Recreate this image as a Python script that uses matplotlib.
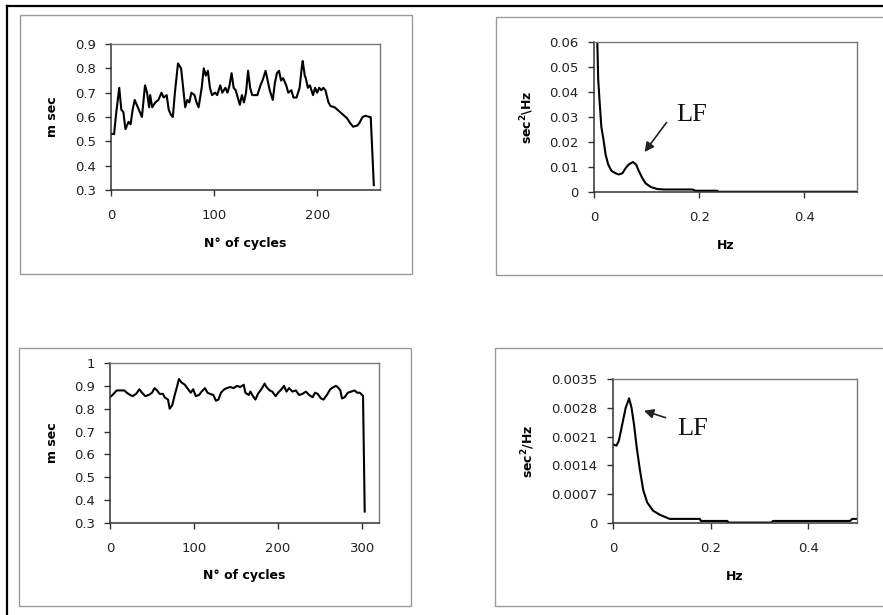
import matplotlib
matplotlib.use("Agg")
import matplotlib.pyplot as plt
from matplotlib.lines import Line2D
from matplotlib.patches import Rectangle

# ---------------- data ----------------
tl_cycles = [0, 3, 5, 8, 10, 12, 14, 17, 19, 21,
             23, 25, 28, 30, 33, 35, 37, 38, 40, 43,
             46, 49, 51, 54, 56, 58, 60, 62, 65, 68,
             70, 72, 74, 76, 78, 81, 83, 85, 88, 90,
             92, 94, 96, 98, 101, 103, 106, 108, 111, 113,
             115, 117, 119, 121, 123, 125, 127, 129, 131, 133,
             135, 137, 140, 142, 145, 147, 150, 152, 154, 157,
             159, 161, 163, 165, 167, 170, 172, 175, 177, 180,
             183, 185, 186, 188, 189, 191, 193, 196, 198, 200,
             202, 204, 206, 208, 211, 213, 217, 221, 225, 229,
             232, 235, 239, 241, 244, 247, 251, 252, 255]
tl_msec = [0.53, 0.53, 0.615, 0.72, 0.63, 0.62, 0.55, 0.58, 0.57, 0.63,
           0.67, 0.65, 0.62, 0.60, 0.73, 0.70, 0.64, 0.69, 0.64, 0.66,
           0.67, 0.70, 0.68, 0.69, 0.63, 0.61, 0.60, 0.70, 0.82, 0.80,
           0.72, 0.64, 0.67, 0.66, 0.70, 0.69, 0.66, 0.64, 0.72, 0.80,
           0.77, 0.79, 0.72, 0.69, 0.70, 0.69, 0.73, 0.70, 0.72, 0.70,
           0.73, 0.78, 0.72, 0.71, 0.68, 0.65, 0.69, 0.66, 0.70, 0.79,
           0.72, 0.69, 0.69, 0.69, 0.73, 0.75, 0.79, 0.75, 0.71, 0.67,
           0.74, 0.78, 0.79, 0.75, 0.76, 0.73, 0.70, 0.71, 0.68, 0.68,
           0.72, 0.80, 0.83, 0.77, 0.76, 0.72, 0.73, 0.69, 0.72, 0.70,
           0.72, 0.71, 0.72, 0.71, 0.66, 0.645, 0.64, 0.625, 0.61, 0.595,
           0.575, 0.56, 0.565, 0.575, 0.60, 0.605, 0.60, 0.60, 0.32]

tr_hz = [0.004, 0.008, 0.011, 0.014, 0.018, 0.022, 0.027, 0.033, 0.041, 0.047,
         0.054, 0.060, 0.066, 0.074, 0.080, 0.085, 0.092, 0.098, 0.108, 0.120,
         0.133, 0.152, 0.187, 0.193, 0.234, 0.237, 0.30, 0.40, 0.50]
tr_psd = [0.080, 0.045, 0.035, 0.026, 0.021, 0.015, 0.011, 0.0085, 0.0075, 0.007,
          0.0075, 0.0095, 0.011, 0.012, 0.011, 0.0085, 0.0055, 0.0035, 0.002, 0.0012,
          0.001, 0.001, 0.001, 0.0005, 0.0005, 0.0001, 0.0001, 0.0001, 0.0001]

bl_cycles = [0, 3, 8, 13, 17, 20, 24, 27, 31, 35,
             38, 42, 46, 50, 53, 56, 59, 63, 65, 69,
             71, 74, 77, 80, 82, 85, 89, 92, 96, 99,
             102, 106, 109, 113, 116, 119, 123, 126, 129, 132,
             136, 139, 143, 147, 151, 155, 159, 161, 165, 167,
             170, 173, 176, 180, 184, 186, 190, 193, 197, 200,
             204, 207, 210, 213, 217, 221, 225, 229, 233, 237,
             241, 244, 247, 251, 254, 258, 262, 266, 269, 272,
             274, 276, 279, 283, 287, 291, 294, 297, 300, 301, 303]
bl_msec = [0.851, 0.86, 0.88, 0.88, 0.88, 0.87, 0.86, 0.855, 0.865, 0.885,
           0.87, 0.855, 0.86, 0.87, 0.89, 0.88, 0.865, 0.865, 0.85, 0.84,
           0.80, 0.815, 0.86, 0.90, 0.93, 0.915, 0.905, 0.89, 0.87, 0.885,
           0.855, 0.86, 0.875, 0.89, 0.87, 0.865, 0.86, 0.835, 0.84, 0.87,
           0.885, 0.89, 0.895, 0.89, 0.90, 0.895, 0.905, 0.87, 0.86, 0.875,
           0.855, 0.84, 0.865, 0.885, 0.91, 0.895, 0.88, 0.875, 0.855, 0.87,
           0.885, 0.90, 0.875, 0.89, 0.875, 0.88, 0.86, 0.865, 0.875, 0.86,
           0.85, 0.87, 0.865, 0.845, 0.84, 0.86, 0.885, 0.895, 0.90, 0.89,
           0.88, 0.845, 0.85, 0.87, 0.875, 0.88, 0.87, 0.87, 0.86, 0.855, 0.35]

br_hz = [0, 0.007, 0.012, 0.019, 0.026, 0.033, 0.038, 0.043, 0.049, 0.055,
         0.062, 0.070, 0.082, 0.096, 0.116, 0.178, 0.180, 0.234, 0.237, 0.325,
         0.328, 0.486, 0.490, 0.5]
br_psd = [0.00191, 0.00188, 0.0020, 0.0024, 0.0028, 0.00303, 0.0028, 0.0024, 0.0018, 0.0013,
          0.0008, 0.0005, 0.0003, 0.0002, 0.0001, 0.0001, 0.00005, 0.00005, 0.00001, 0.00001,
          0.00005, 0.00005, 0.0001, 0.0001]

tl_yticks = [0.3, 0.4, 0.5, 0.6, 0.7, 0.8, 0.9]
tl_yticklabels = ["0.3", "0.4", "0.5", "0.6", "0.7", "0.8", "0.9"]
tl_xticks = [0, 100, 200]
tr_yticks = [0, 0.01, 0.02, 0.03, 0.04, 0.05, 0.06]
tr_yticklabels = ["0", "0.01", "0.02", "0.03", "0.04", "0.05", "0.06"]
bl_yticks = [0.3, 0.4, 0.5, 0.6, 0.7, 0.8, 0.9, 1.0]
bl_yticklabels = ["0.3", "0.4", "0.5", "0.6", "0.7", "0.8", "0.9", "1"]
bl_xticks = [0, 100, 200, 300]
hz_xticks = [0, 0.2, 0.4]
hz_xticklabels = ["0", "0.2", "0.4"]
br_yticks = [0, 0.0007, 0.0014, 0.0021, 0.0028, 0.0035]
br_yticklabels = ["0", "0.0007", "0.0014", "0.0021", "0.0028", "0.0035"]

# ---------------- figure ----------------
W, H = 883, 615
fig = plt.figure(figsize=(W / 100, H / 100), dpi=100)
fig.patch.set_facecolor("white")


def px_rect(l, t, r, b):
    return [l / W, 1 - b / H, (r - l) / W, (b - t) / H]


# outer chart boxes
for (l, t, r, b) in [(20, 15, 412, 274), (496, 17, 900, 275),
                     (19, 348, 411, 606), (495, 348, 900, 606)]:
    fig.add_artist(Rectangle((l / W, 1 - b / H), (r - l) / W, (b - t) / H,
                             transform=fig.transFigure, fill=False,
                             edgecolor="#9a9a9a", lw=1.0))

# page border (scan edges)
fig.add_artist(Line2D([7 / W, 1], [1 - 5.5 / H, 1 - 5.5 / H],
                      transform=fig.transFigure, color="black", lw=1.6))
fig.add_artist(Line2D([7 / W, 7 / W], [0, 1 - 5.5 / H],
                      transform=fig.transFigure, color="black", lw=1.6))

tick_font = dict(family="DejaVu Sans", size=9.5)
label_font = dict(family="DejaVu Sans", size=9, weight="bold")


def style(ax, xlim, ylim, xticks, xticklabels, yticks, yticklabels,
          xlabel, ylabel, xlab_off, ylab_off, h_px, w_px):
    ax.set_xlim(*xlim)
    ax.set_ylim(*ylim)
    ax.set_xticks(xticks)
    ax.set_xticklabels(xticklabels, **tick_font)
    ax.set_yticks(yticks)
    ax.set_yticklabels(yticklabels, **tick_font)
    for s in ["left", "bottom"]:
        ax.spines[s].set_color("#333333")
        ax.spines[s].set_linewidth(1.1)
    for s in ["top", "right"]:
        ax.spines[s].set_color("#777777")
        ax.spines[s].set_linewidth(1.0)
    ax.tick_params(axis="both", direction="out", length=4, width=1,
                   color="#333333", labelcolor="#222222")
    ax.tick_params(axis="x", pad=10)
    ax.tick_params(axis="y", pad=7)
    ax.set_xlabel(xlabel, **label_font)
    ax.set_ylabel(ylabel, **label_font)
    ax.xaxis.label.set_va("center")
    ax.yaxis.label.set_va("center")
    ax.xaxis.set_label_coords(0.5, -xlab_off / h_px)
    ax.yaxis.set_label_coords(-ylab_off / w_px, 0.5)


line_kw = dict(color="black", lw=1.5, solid_joinstyle="round")

# top-left
ax1 = fig.add_axes(px_rect(111, 44, 380, 190))
ax1.plot(tl_cycles, tl_msec, **line_kw)
style(ax1, (0, 261), (0.3, 0.9), tl_xticks, [str(v) for v in tl_xticks],
      tl_yticks, tl_yticklabels, "N° of cycles", "m sec", 53, 58, 146, 269)

# top-right
ax2 = fig.add_axes(px_rect(594, 42, 857, 192))
ax2.plot(tr_hz, tr_psd, **line_kw)
style(ax2, (0, 0.5), (0, 0.06), hz_xticks, hz_xticklabels,
      tr_yticks, tr_yticklabels, "Hz", "sec$^\\mathbf{2}$\\Hz", 53, 67, 150, 263)
ax2.annotate("", xy=(0.093, 0.0151), xytext=(0.141, 0.0287),
             arrowprops=dict(arrowstyle="-|>", color="#222222", lw=1.2,
                             mutation_scale=14))
ax2.text(0.156, 0.0284, "LF", family="Liberation Serif", size=19,
         ha="left", va="baseline", color="#111111")

# bottom-left
ax3 = fig.add_axes(px_rect(110, 363, 379, 523))
ax3.plot(bl_cycles, bl_msec, **line_kw)
style(ax3, (0, 320), (0.3, 1.0), bl_xticks, [str(v) for v in bl_xticks],
      bl_yticks, bl_yticklabels, "N° of cycles", "m sec", 53, 57, 160, 269)

# bottom-right
ax4 = fig.add_axes(px_rect(613, 379, 857, 523))
ax4.plot(br_hz, br_psd, **line_kw)
style(ax4, (0, 0.5), (0, 0.0035), hz_xticks, hz_xticklabels,
      br_yticks, br_yticklabels, "Hz", "sec$^\\mathbf{2}$/Hz", 54, 85, 144, 244)
ax4.annotate("", xy=(0.058, 0.00275), xytext=(0.113, 0.00254),
             arrowprops=dict(arrowstyle="-|>", color="#222222", lw=1.2,
                             mutation_scale=14))
ax4.text(0.131, 0.00214, "LF", family="Liberation Serif", size=19,
         ha="left", va="baseline", color="#111111")

fig.savefig("out.png", dpi=100)
